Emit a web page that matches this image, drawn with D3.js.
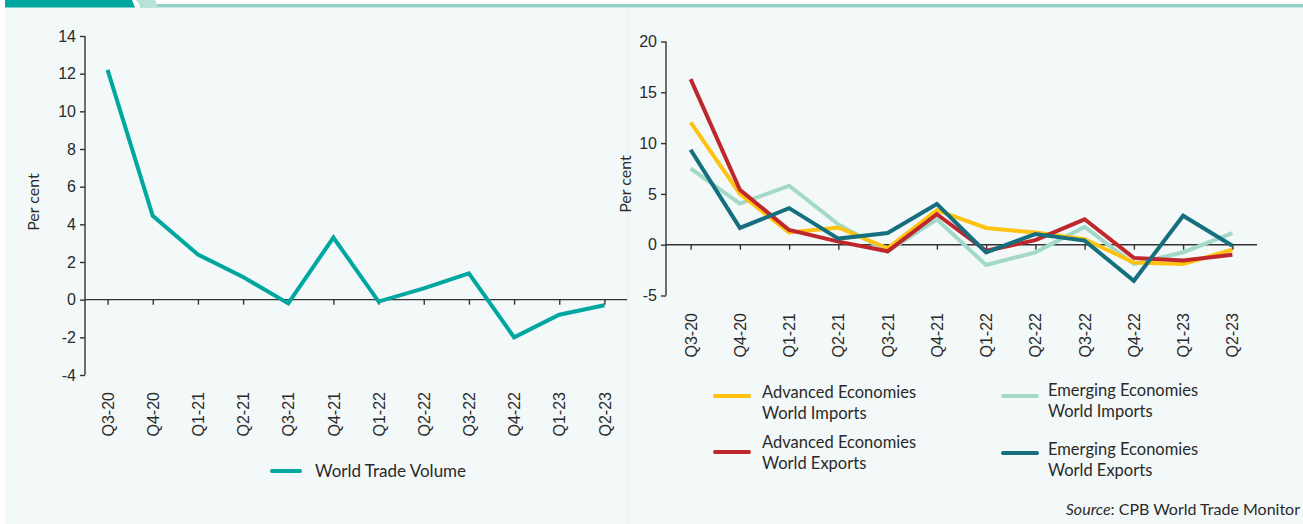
<!DOCTYPE html>
<html>
<head>
<meta charset="utf-8">
<script src="https://cdn.jsdelivr.net/npm/d3@7"></script>
<style>
  body { margin: 0; background: #fff; }
  svg { display: block; font-family: Lato, "Open Sans", sans-serif; }
  .axis path, .axis line { stroke: #333; stroke-width: 1.4; }
  .axis text { fill: #2a2a2a; font-size: 16px; }
  .lbl { fill: #2a2a2a; font-size: 16px; }
</style>
</head>
<body>
<svg></svg>
<script>
let svgWidth = 1303
let svgHeight = 524

// quarters shared by both panels
let quarters = ['Q3-20','Q4-20','Q1-21','Q2-21','Q3-21','Q4-21','Q1-22','Q2-22','Q3-22','Q4-22','Q1-23','Q2-23']

// left panel
let worldTradeVolume = [12.2, 4.45, 2.4, 1.2, -0.2, 3.3, -0.1, 0.6, 1.4, -2.0, -0.8, -0.3]
let leftTicks = [-4, -2, 0, 2, 4, 6, 8, 10, 12, 14]

// right panel
let advImports = [12.05, 5.0, 1.2, 1.7, -0.35, 3.4, 1.65, 1.2, 0.55, -1.75, -1.9, -0.5]
let advExports = [16.3, 5.4, 1.45, 0.3, -0.65, 3.0, -0.6, 0.45, 2.5, -1.3, -1.55, -1.0]
let emgImports = [7.5, 4.05, 5.8, 2.0, -0.65, 2.5, -2.0, -0.75, 1.75, -1.9, -0.75, 1.15]
let emgExports = [9.35, 1.65, 3.6, 0.6, 1.15, 4.0, -0.75, 1.05, 0.4, -3.55, 2.85, -0.1]
let rightTicks = [-5, 0, 5, 10, 15, 20]

let svg = d3.select('svg')
    .attr('width', svgWidth)
    .attr('height', svgHeight)

// background panel + top banner
svg.append('rect').attr('x', 5).attr('y', 0).attr('width', svgWidth - 5).attr('height', svgHeight).attr('fill', '#f3f9f9')
svg.append('rect').attr('x', 0).attr('y', 0).attr('width', svgWidth).attr('height', 4).attr('fill', '#fff')
svg.append('rect').attr('x', 140).attr('y', 4).attr('width', svgWidth - 140).attr('height', 3.5).attr('fill', '#94d3c3')
svg.append('polygon').attr('points', '5,0 132,0 135,7.5 5,7.5').attr('fill', '#00a6a0')
svg.append('polygon').attr('points', '136,0 155,0 158,7.5 142,7.5').attr('fill', '#b6e2d8')
svg.append('line').attr('x1', 628).attr('x2', 628).attr('y1', 8).attr('y2', svgHeight)
    .attr('stroke', '#e4eeee').attr('stroke-width', 1)

function drawPanel(opts){
    const x = d3.scalePoint().domain(quarters).range(opts.xRange).padding(0.5)
    const y = d3.scaleLinear().domain(opts.yDomain).range(opts.yRange)
    const g = svg.append('g')

    // y axis (plain hyphen for negatives, like the original)
    g.append('g').attr('class', 'axis')
        .attr('transform', `translate(${opts.xRange[0]},0)`)
        .call(d3.axisLeft(y).tickValues(opts.ticks).tickFormat(d => String(d))
            .tickSize(5).tickSizeOuter(0).tickPadding(4))
        .call(a => a.select('.domain').attr('d', `M0,${opts.yRange[0]}V${opts.yRange[1]}`))

    // x axis at zero, labels pushed down below plot
    const xa = g.append('g').attr('class', 'axis')
        .attr('transform', `translate(0,${y(0)})`)
        .call(d3.axisBottom(x).tickSize(5).tickSizeOuter(0))
    xa.select('.domain').attr('d', `M${opts.xRange[0]},0H${opts.xRange[1]}`)
    xa.selectAll('.tick text')
        .attr('transform', `translate(0,${opts.labelTop - y(0)}) rotate(-90)`)
        .attr('x', 0).attr('y', 0).attr('dy', '0.35em')
        .attr('text-anchor', 'end')

    // y label
    g.append('text').attr('class', 'lbl')
        .attr('transform', `translate(${opts.yLabelX},${opts.yLabelY}) rotate(-90)`)
        .attr('text-anchor', 'middle').attr('dy', '0.35em')
        .text('Per cent')

    const line = d3.line().x((d, i) => x(quarters[i])).y(d => y(d))
    opts.series.forEach(function(s){
        g.append('path')
            .datum(s.values)
            .attr('d', line)
            .attr('fill', 'none')
            .attr('stroke', s.color)
            .attr('stroke-width', 4)
            .attr('stroke-linejoin', 'miter')
    })
}

let leftSeries = [{ name: 'World Trade Volume', color: '#00a6a0', values: worldTradeVolume }]
let rightSeries = [
    { name: ['Emerging Economies', 'World Imports'], color: '#a3d9c8', values: emgImports },
    { name: ['Advanced Economies', 'World Imports'], color: '#ffc20e', values: advImports },
    { name: ['Advanced Economies', 'World Exports'], color: '#c0272d', values: advExports },
    { name: ['Emerging Economies', 'World Exports'], color: '#156f7e', values: emgExports }
]

drawPanel({ xRange: [85, 627], yDomain: [-4, 14], yRange: [375, 36], ticks: leftTicks,
    labelTop: 392, yLabelX: 33, yLabelY: 202, series: leftSeries })
drawPanel({ xRange: [666, 1257], yDomain: [-5, 20], yRange: [295.5, 41.5], ticks: rightTicks,
    labelTop: 313, yLabelX: 625, yLabelY: 184, series: rightSeries })

// left legend
svg.append('line').attr('x1', 272).attr('x2', 300).attr('y1', 471).attr('y2', 471)
    .attr('stroke', '#00a6a0').attr('stroke-width', 4).attr('stroke-linecap', 'round')
svg.append('text').attr('class', 'lbl').attr('x', 315).attr('y', 471).attr('dy', '0.35em')
    .style('font-size', '17px').text('World Trade Volume')

// right legend
let legendPos = [
    { s: 1, lx: 715, ly: 396, tx: 762, ty: 392 },
    { s: 2, lx: 715, ly: 452, tx: 762, ty: 442 },
    { s: 0, lx: 1003, ly: 396, tx: 1048, ty: 390 },
    { s: 3, lx: 1003, ly: 453, tx: 1048, ty: 449 }
]
legendPos.forEach(function(p){
    const s = rightSeries[p.s]
    svg.append('line').attr('x1', p.lx).attr('x2', p.lx + 34).attr('y1', p.ly).attr('y2', p.ly)
        .attr('stroke', s.color).attr('stroke-width', 4).attr('stroke-linecap', 'round')
    const t = svg.append('text').attr('class', 'lbl').style('font-size', '16.5px')
    s.name.forEach(function(n, i){
        t.append('tspan').attr('x', p.tx).attr('y', p.ty + i * 21).attr('dy', '0.35em').text(n)
    })
})

// source
let src = svg.append('text').attr('class', 'lbl').attr('x', 1300).attr('y', 509).attr('dy', '0.35em')
    .attr('text-anchor', 'end').style('font-size', '16px')
src.append('tspan').style('font-style', 'italic').text('Source')
src.append('tspan').text(': CPB World Trade Monitor')
</script>
</body>
</html>
